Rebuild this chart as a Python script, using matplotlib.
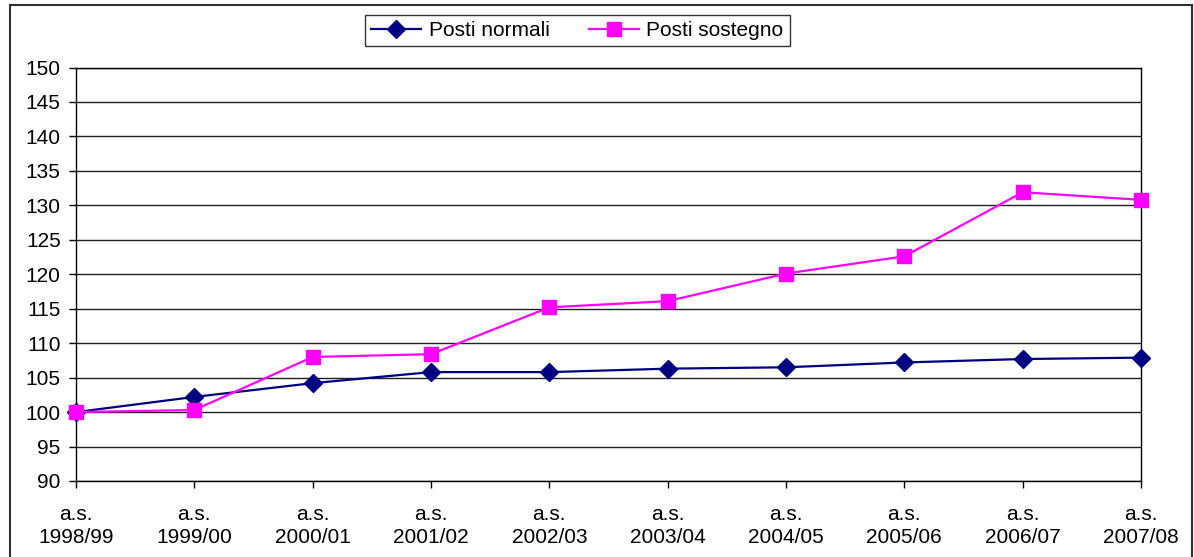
import matplotlib.pyplot as plt
from matplotlib.patches import Rectangle

plt.rcParams['font.family'] = ['Liberation Sans', 'DejaVu Sans']

anni = ["a.s.\n1998/99", "a.s.\n1999/00", "a.s.\n2000/01", "a.s.\n2001/02", "a.s.\n2002/03",
        "a.s.\n2003/04", "a.s.\n2004/05", "a.s.\n2005/06", "a.s.\n2006/07", "a.s.\n2007/08"]
posti_normali = [100, 102.2, 104.2, 105.8, 105.8, 106.3, 106.5, 107.2, 107.7, 107.9]
posti_sostegno = [100, 100.3, 108.0, 108.4, 115.2, 116.1, 120.1, 122.6, 131.9, 130.8]
y_ticks = list(range(90, 151, 5))

W, H = 1194, 557
fig = plt.figure(figsize=(W / 100, H / 100), dpi=100)
ax = fig.add_axes([76 / W, 1 - 481 / H, (1141 - 76) / W, (481 - 67.5) / H])

x = list(range(len(anni)))
ax.plot(x, posti_normali, color='#000080', lw=1.6, marker='D', markersize=9.5,
        label='Posti normali', clip_on=False, zorder=3)
ax.plot(x, posti_sostegno, color='#FF00FF', lw=1.6, marker='s', markersize=9.5,
        label='Posti sostegno', clip_on=False, zorder=4)

ax.set_xlim(0, len(anni) - 1)
ax.set_ylim(90, 150)
ax.set_yticks(y_ticks)
ax.set_xticks(x)
ax.set_xticklabels(anni, linespacing=1.3)
ax.yaxis.grid(True, color='#202020', lw=1)
ax.set_axisbelow(True)
ax.tick_params(axis='y', labelsize=15, length=5, width=1, pad=6, direction='out')
ax.tick_params(axis='x', labelsize=15, length=5, width=1, pad=12, direction='out')
for s in ax.spines.values():
    s.set_color('black')
    s.set_linewidth(1)

leg = fig.legend(loc='center', bbox_to_anchor=(577.5 / W, 1 - 30.5 / H), ncol=2,
                 fontsize=15, frameon=True, fancybox=False, handlelength=2.4,
                 handletextpad=0.35, columnspacing=1.9, borderpad=0.3, borderaxespad=0)
leg.get_frame().set_edgecolor('black')
leg.get_frame().set_linewidth(1)

fig.patches.append(Rectangle((10 / W, -0.01), (1192 - 10) / W, 1 - 5 / H + 0.01,
                             transform=fig.transFigure, fill=False,
                             edgecolor='#303030', lw=1.5))

fig.savefig('out.png', dpi=100)
